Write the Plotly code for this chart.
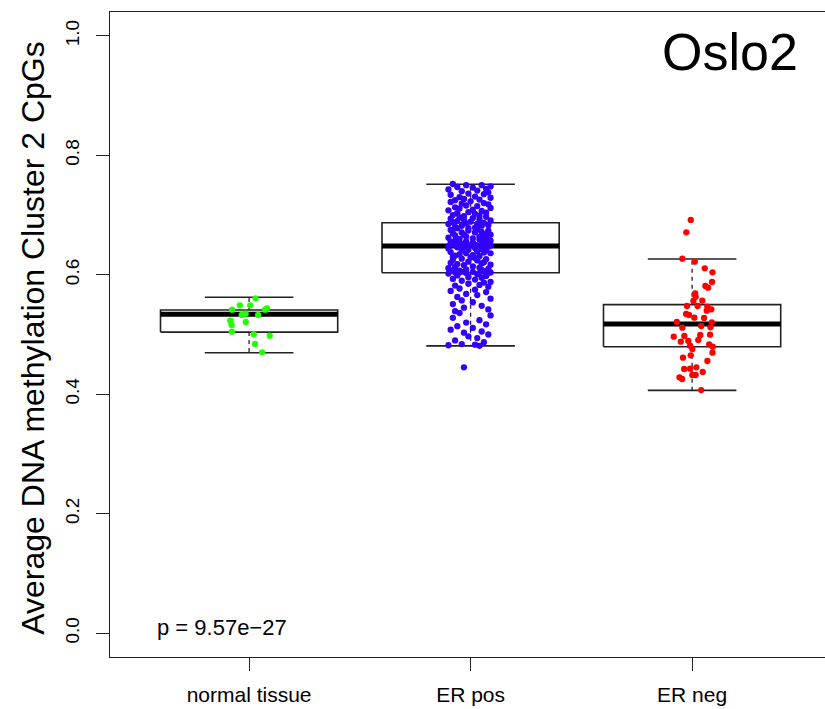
import plotly.graph_objects as go

# ---------------- data ----------------
categories = ["normal tissue", "ER pos", "ER neg"]
tick_vals_y = [0.0, 0.2, 0.4, 0.6, 0.8, 1.0]
tick_text_y = ["0.0", "0.2", "0.4", "0.6", "0.8", "1.0"]

box_q1 = [0.504, 0.6035, 0.4796]
box_median = [0.534, 0.648, 0.5176]
box_q3 = [0.541, 0.687, 0.550]
whisker_low = [0.4695, 0.481, 0.4065]
whisker_high = [0.5623, 0.7516, 0.6265]

normal_values = [0.5606, 0.5489, 0.5489, 0.5415, 0.5439, 0.5415, 0.5348, 0.5327, 0.5327,
                 0.5231, 0.5159, 0.5209, 0.5047, 0.5003, 0.4980, 0.4841, 0.4702]
normal_jitter = [0.029, -0.042, 0.005, -0.077, 0.081, 0.072, -0.016, -0.033, 0.041,
                 -0.085, -0.079, -0.015, -0.078, 0.021, 0.093, 0.027, 0.059]

erpos_values = [
    0.752, 0.750, 0.750, 0.748, 0.747, 0.746, 0.744, 0.743, 0.741, 0.740,
    0.738, 0.736, 0.735, 0.734, 0.731, 0.730, 0.729, 0.727, 0.726, 0.725,
    0.723, 0.722, 0.720, 0.719, 0.718, 0.716, 0.715, 0.713, 0.712, 0.711,
    0.709, 0.708, 0.707, 0.705, 0.704, 0.703, 0.702, 0.700, 0.699, 0.698,
    0.697, 0.696, 0.695, 0.694, 0.693, 0.692, 0.691, 0.690, 0.689, 0.688,
    0.687, 0.686, 0.685, 0.685, 0.683, 0.682, 0.682, 0.680, 0.679, 0.678,
    0.678, 0.676, 0.675, 0.674, 0.674, 0.672, 0.671, 0.671, 0.670, 0.668,
    0.667, 0.667, 0.666, 0.664, 0.664, 0.663, 0.662, 0.661, 0.660, 0.660,
    0.659, 0.657, 0.657, 0.656, 0.655, 0.655, 0.654, 0.653, 0.652, 0.652,
    0.651, 0.651, 0.650, 0.650, 0.649, 0.649, 0.649, 0.648, 0.648, 0.648,
    0.647, 0.647, 0.646, 0.645, 0.644, 0.643, 0.642, 0.641, 0.641, 0.639,
    0.638, 0.637, 0.636, 0.636, 0.634, 0.633, 0.632, 0.631, 0.630, 0.629,
    0.628, 0.627, 0.626, 0.625, 0.624, 0.622, 0.621, 0.620, 0.619, 0.618,
    0.617, 0.616, 0.614, 0.613, 0.612, 0.611, 0.610, 0.609, 0.608, 0.607,
    0.607, 0.606, 0.605, 0.605, 0.604, 0.604, 0.604, 0.603, 0.603, 0.603,
    0.602, 0.601, 0.599, 0.598, 0.596, 0.595, 0.593, 0.592, 0.590, 0.588,
    0.587, 0.585, 0.583, 0.582, 0.580, 0.577, 0.575, 0.573, 0.571, 0.568,
    0.566, 0.563, 0.560, 0.557, 0.554, 0.551, 0.548, 0.545, 0.542, 0.539,
    0.536, 0.532, 0.528, 0.524, 0.520, 0.517, 0.514, 0.511, 0.508, 0.505,
    0.503, 0.500, 0.497, 0.494, 0.490, 0.487, 0.484, 0.483, 0.482, 0.481,
    0.445,
]
erpos_jitter = [
    -0.08, 0.05, -0.02, 0.09, -0.06, 0.01, 0.07, -0.10, 0.03, -0.04, 0.08, -0.01, 0.06, -0.09, 0.02, -0.05, 0.09, -0.03, 0.04, -0.07,
    0.00, -0.09, 0.06, -0.04, 0.08, -0.02, 0.03, -0.07, 0.09, -0.05, 0.01, -0.10, 0.05, -0.01, 0.07, -0.06, 0.02, -0.08, 0.04, -0.03,
    0.07, -0.05, 0.01, -0.09, 0.04, -0.03, 0.09, -0.06, 0.00, -0.08, 0.06, -0.02, 0.03, -0.10, 0.08, -0.04, 0.05, -0.07, 0.02, -0.01,
    -0.06, 0.03, -0.09, 0.08, -0.01, 0.05, -0.04, 0.02, -0.08, 0.07, -0.03, 0.09, -0.07, 0.04, -0.02, 0.06, -0.10, 0.01, -0.05, 0.08,
    0.04, -0.07, 0.09, -0.02, 0.06, -0.09, 0.01, -0.05, 0.08, -0.03, 0.05, -0.08, 0.02, -0.06, 0.09, -0.01, 0.03, -0.04, 0.07, -0.10,
    -0.03, 0.08, -0.06, 0.02, -0.10, 0.05, -0.01, 0.07, -0.04, 0.03, -0.09, 0.06, -0.02, 0.09, -0.05, 0.01, -0.07, 0.04, -0.08, 0.00,
    0.02, -0.04, 0.07, -0.08, 0.03, -0.01, 0.06, -0.09, 0.05, -0.06, 0.09, -0.03, 0.01, -0.07, 0.04, -0.10, 0.08, -0.02, 0.05, -0.05,
    -0.09, 0.06, -0.03, 0.01, -0.07, 0.09, -0.05, 0.04, -0.02, 0.08, -0.10, 0.03, -0.06, 0.07, -0.01, 0.05, -0.08, 0.02, -0.04, 0.09,
    0.06, -0.01, 0.04, -0.07, 0.08, -0.05, 0.02, -0.09, 0.07, -0.02, 0.03, -0.06, 0.09, -0.04, 0.01, -0.08, 0.05, -0.03, 0.08, -0.07,
    -0.05, 0.09, -0.08, 0.04, -0.02, 0.07, -0.06, 0.01, -0.09, 0.05, -0.03, 0.08, -0.01, 0.03, -0.07, 0.06, -0.04, 0.02, -0.10, 0.04,
    -0.03,
]

erneg_values = [0.6918, 0.6711, 0.6270, 0.6220, 0.6108, 0.6041, 0.5879, 0.5812, 0.5784, 0.5690,
                0.5633, 0.5561, 0.5566, 0.5477, 0.5477, 0.5466, 0.5422, 0.5399, 0.5343, 0.5327,
                0.5282, 0.5276, 0.5209, 0.5204, 0.5114, 0.5142, 0.5120, 0.4963, 0.4975, 0.4992,
                0.4997, 0.4880, 0.4891, 0.4908, 0.4813, 0.4835, 0.4796, 0.4757, 0.4696, 0.4612,
                0.4651, 0.4556, 0.4422, 0.4428, 0.4450, 0.4372, 0.4322, 0.4322, 0.4283, 0.4255,
                0.4070]
erneg_jitter = [-0.006, -0.026, -0.044, 0.012, 0.057, 0.092, 0.090, 0.060, 0.072, 0.014,
                0.016, 0.006, 0.046, -0.023, 0.025, 0.069, 0.087, 0.066, -0.027, -0.014,
                0.010, 0.054, -0.069, 0.089, -0.044, 0.041, 0.083, -0.083, -0.035, 0.037,
                0.081, -0.051, -0.017, 0.028, -0.009, 0.077, 0.093, 0.001, 0.092, -0.041,
                -0.006, 0.069, -0.036, -0.009, 0.019, 0.048, 0.001, 0.016, -0.057, -0.045,
                0.041]

point_colors = ["#22ff00", "#3300ff", "#ff0000"]
group_values = [normal_values, erpos_values, erneg_values]
group_jitter = [normal_jitter, erpos_jitter, erneg_jitter]

# ---------------- figure ----------------
FONT = "Liberation Sans, Arial, Helvetica, sans-serif"
BOXW = 0.4      # half box width (boxwex 0.8)
CAPW = 0.2      # half staple width
fig = go.Figure()

for i in range(3):
    xc = i + 1
    # box body
    fig.add_trace(go.Scatter(
        x=[xc - BOXW, xc + BOXW, xc + BOXW, xc - BOXW, xc - BOXW],
        y=[box_q1[i], box_q1[i], box_q3[i], box_q3[i], box_q1[i]],
        mode="lines", fill="toself", fillcolor="white",
        line=dict(color="#222222", width=1.6), hoverinfo="skip", showlegend=False))
    # whiskers (dashed)
    fig.add_trace(go.Scatter(
        x=[xc, xc, None, xc, xc],
        y=[box_q3[i], whisker_high[i], None, box_q1[i], whisker_low[i]],
        mode="lines", line=dict(color="#222222", width=1.3, dash="4px,4px"),
        hoverinfo="skip", showlegend=False))
    # staples
    fig.add_trace(go.Scatter(
        x=[xc - CAPW, xc + CAPW, None, xc - CAPW, xc + CAPW],
        y=[whisker_high[i], whisker_high[i], None, whisker_low[i], whisker_low[i]],
        mode="lines", line=dict(color="#222222", width=1.6),
        hoverinfo="skip", showlegend=False))
    # median
    fig.add_trace(go.Scatter(
        x=[xc - BOXW, xc + BOXW], y=[box_median[i], box_median[i]],
        mode="lines", line=dict(color="black", width=5),
        hoverinfo="skip", showlegend=False))

for i in range(3):
    xc = i + 1
    fig.add_trace(go.Scatter(
        x=[xc + j for j in group_jitter[i]], y=group_values[i],
        mode="markers", marker=dict(color=point_colors[i], size=6.3, line=dict(width=0)),
        name=categories[i], showlegend=False))

fig.update_layout(
    width=825, height=709,
    margin=dict(l=110, r=0, t=12, b=52),
    paper_bgcolor="white", plot_bgcolor="white",
    font=dict(family=FONT, color="black"),
    xaxis=dict(range=[0.372, 3.600], tickvals=[1, 2, 3], ticktext=categories,
               ticks="outside", ticklen=13, tickwidth=1.2, tickcolor="#222",
               tickfont=dict(size=21, family=FONT), ticklabelstandoff=6,
               showline=True, linecolor="#222", linewidth=1.3, mirror=True,
               showgrid=False, zeroline=False, fixedrange=True),
    yaxis=dict(range=[-0.04, 1.04], tickvals=tick_vals_y, ticktext=tick_text_y,
               ticks="outside", ticklen=13, tickwidth=1.2, tickcolor="#222",
               tickfont=dict(size=19, family=FONT), tickangle=-90, ticklabelstandoff=9,
               showline=True, linecolor="#222", linewidth=1.3, mirror=False,
               showgrid=False, zeroline=False, fixedrange=True),
    annotations=[
        dict(text="Average DNA methylation Cluster 2 CpGs", xref="paper", yref="paper",
             x=-0.1077, y=0.495, xanchor="center", yanchor="middle", textangle=-90,
             showarrow=False, font=dict(size=32, family=FONT)),
        dict(text="Oslo2", xref="paper", yref="paper", x=0.867, y=0.938,
             xanchor="center", yanchor="middle", showarrow=False,
             font=dict(size=52, family=FONT)),
        dict(text="p = 9.57e\u221227", xref="paper", yref="paper", x=0.063, y=0.045,
             xanchor="left", yanchor="middle", showarrow=False,
             font=dict(size=22, family=FONT)),
    ],
)

fig.write_html("out.html")
